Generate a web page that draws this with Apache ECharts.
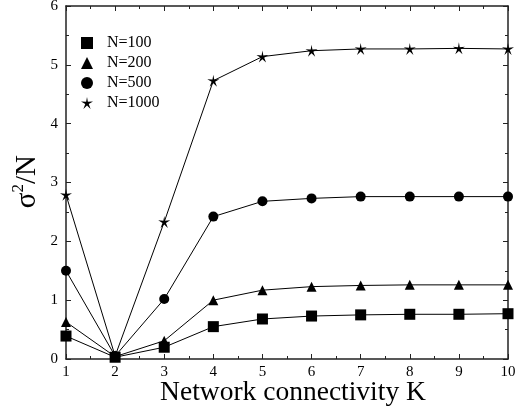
<!DOCTYPE html>
<html>
<head>
<meta charset="utf-8">
<script src="https://cdn.jsdelivr.net/npm/echarts@6/dist/echarts.min.js"></script>
<style>
html,body{margin:0;padding:0;background:#fff;}
#chart{width:528px;height:412px;}
</style>
</head>
<body>
<div id="chart"></div>
<script>
// Network connectivity K and normalised variance per network size
const kValues = [1, 2, 3, 4, 5, 6, 7, 8, 9, 10];
const n100  = [0.39, 0.03, 0.20, 0.55, 0.68, 0.73, 0.75, 0.76, 0.76, 0.77];
const n200  = [0.63, 0.04, 0.31, 1.00, 1.17, 1.23, 1.25, 1.26, 1.26, 1.26];
const n500  = [1.50, 0.05, 1.02, 2.42, 2.68, 2.73, 2.76, 2.76, 2.76, 2.76];
const n1000 = [2.79, 0.05, 2.33, 4.73, 5.14, 5.24, 5.27, 5.27, 5.28, 5.27];
const seriesNames = ['N=100', 'N=200', 'N=500', 'N=1000'];

const serif = '"Liberation Serif", "DejaVu Serif", serif';
const starPath = 'path://M50,0 L57,38 L98,35 L64,56 L79,95 L50,68 L21,95 L36,56 L2,35 L43,38 Z';

function pairs(vals) { return kValues.map((k, i) => [k, vals[i]]); }

const axisCommon = {
  axisLine: { show: true, onZero: false, lineStyle: { color: '#222', width: 1.5 } },
  axisTick: { show: true, inside: true, length: 5, lineStyle: { color: '#222' } },
  minorTick: { show: true, splitNumber: 2, length: 3, lineStyle: { color: '#222' } },
  splitLine: { show: false },
  minorSplitLine: { show: false }
};

const chart = echarts.init(document.getElementById('chart'));
chart.setOption({
  animation: false,
  backgroundColor: '#fff',
  grid: { left: 66, right: 20, top: 6, bottom: 53, containLabel: false, outerBoundsMode: 'none' },
  legend: {
    orient: 'vertical',
    left: 76,
    top: 30,
    itemGap: 4,
    itemWidth: 12,
    itemHeight: 12,
    textStyle: { fontFamily: serif, fontSize: 16, lineHeight: 14, color: '#000', padding: [0, 0, 0, 9] },
    data: [
      { name: 'N=100', icon: 'rect' },
      { name: 'N=200', icon: 'triangle' },
      { name: 'N=500', icon: 'circle' },
      { name: 'N=1000', icon: starPath }
    ]
  },
  xAxis: [
    Object.assign({
      type: 'value', min: 1, max: 10, interval: 1, position: 'bottom',
      axisLabel: { fontFamily: serif, fontSize: 15, color: '#000', margin: 6 },
      name: 'Network connectivity K', nameLocation: 'middle', nameGap: 20, nameMoveOverlap: false,
      nameTextStyle: { fontFamily: serif, fontSize: 27.5, color: '#000', padding: [0, 0, 0, 12] }
    }, axisCommon),
    Object.assign({
      type: 'value', min: 1, max: 10, interval: 1, position: 'top',
      axisLabel: { show: false }
    }, axisCommon)
  ],
  yAxis: [
    Object.assign({
      type: 'value', min: 0, max: 6, interval: 1, position: 'left',
      axisLabel: { fontFamily: serif, fontSize: 15, color: '#000', margin: 8 }
    }, axisCommon),
    Object.assign({
      type: 'value', min: 0, max: 6, interval: 1, position: 'right',
      axisLabel: { show: false }
    }, axisCommon)
  ],
  graphic: [{
    type: 'text',
    left: 10,
    top: 155,
    rotation: Math.PI / 2,
    originX: 0, originY: 0,
    style: {
      text: '{s|σ}{sup|2}{s|/N}',
      rich: {
        s: { fontFamily: serif, fontSize: 29, fill: '#000', verticalAlign: 'bottom', lineHeight: 32 },
        sup: { fontFamily: serif, fontSize: 17, fill: '#000', verticalAlign: 'top', lineHeight: 32 }
      }
    }
  }],
  series: [
    { name: 'N=100', type: 'line', data: pairs(n100), symbol: 'rect', symbolSize: 11 },
    { name: 'N=200', type: 'line', data: pairs(n200), symbol: 'triangle', symbolSize: 10 },
    { name: 'N=500', type: 'line', data: pairs(n500), symbol: 'circle', symbolSize: 10 },
    { name: 'N=1000', type: 'line', data: pairs(n1000), symbol: starPath, symbolSize: 12 }
  ].map(s => Object.assign(s, {
    color: '#000',
    lineStyle: { color: '#000', width: 1 },
    itemStyle: { color: '#000' },
    showAllSymbol: true,
    z: 3
  }))
});
</script>
</body>
</html>
